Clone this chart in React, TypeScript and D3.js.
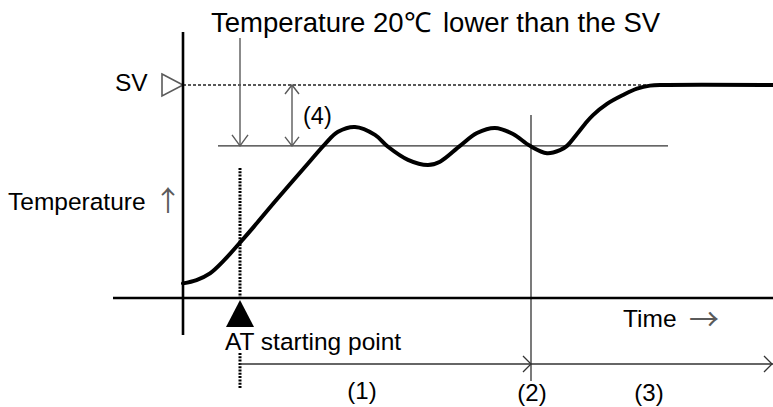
import React from "react";
import * as d3 from "d3";

// Temperature response during auto-tuning (SV = 100, AT point = SV - 20)
const timeValues = [0, 2.7, 5.4, 8.1, 11.4, 14.1, 18.4, 25.0, 28.4, 31.0, 34.4, 38.4, 41.0, 45.0, 49.0, 51.4, 55.4, 58.8, 62.4, 66.0, 69.4, 72.8, 75.4, 76.8, 78.8, 80.4, 82.0, 84.8, 88.0, 90.8, 93.4, 96.4, 118];
const tempValues = [34.8, 35.9, 38.1, 42.2, 48.2, 53.3, 61.7, 74.2, 80.6, 84.6, 86.2, 83.6, 79.7, 75.4, 73.7, 74.8, 80.0, 84.2, 85.9, 83.9, 80.0, 77.6, 78.6, 80.0, 83.9, 87.2, 90.1, 93.8, 96.7, 98.8, 99.8, 100, 100];

const SV = 100;
const AT_OFFSET = 20;
const AT_START = 11.4;
const POINT2 = 69.6;
const OFFSET_ARROW_T = 21.8;
const LOWER_LINE_RANGE = [7, 97];
const SV_DASH_RANGE = [0, 93.4];

const titleParts = ["Temperature 20℃", "lower than the SV"];
const labels = { sv: "SV", temp: "Temperature", up: "↑", at: "AT starting point", time: "Time", right: "→", four: "(4)" };
const phaseLabels = ["(1)", "(2)", "(3)"];
const phaseTimes = [35.8, 69.8, 93.2];

const W = 773;
const H = 407;

const x = d3.scaleLinear().domain([0, 118]).range([183, 773]);
const y = d3.scaleLinear().domain([30, 100]).range([298, 85]);

const FONT = "'Liberation Sans', Arial, sans-serif";
const CJK = "'Noto Sans CJK JP', 'DejaVu Sans', sans-serif";

export default function App() {
  const pts: [number, number][] = timeValues.map((t, i) => [t, tempValues[i]]);
  const line = d3
    .line<[number, number]>()
    .x((d) => x(d[0]))
    .y((d) => y(d[1]))
    .curve(d3.curveCatmullRom.alpha(0.5));

  const x0 = x(0);
  const yAxisY = y(30);
  const ySV = y(SV);
  const yLow = y(SV - AT_OFFSET);
  const xAT = x(AT_START);
  const x2 = x(POINT2);
  const xOff = x(OFFSET_ARROW_T);
  const yArrow = 364;
  const thin = "#333";
  const gray = "#5a5a5a";

  const chevronDown = (cx: number, cy: number, w: number, h: number) =>
    `M${cx - w},${cy - h} L${cx},${cy} L${cx + w},${cy - h}`;
  const chevronUp = (cx: number, cy: number, w: number, h: number) =>
    `M${cx - w},${cy + h} L${cx},${cy} L${cx + w},${cy + h}`;
  const chevronRight = (cx: number, cy: number, w: number, h: number) =>
    `M${cx - w},${cy - h} L${cx},${cy} L${cx - w},${cy + h}`;

  return (
    <svg
      width={W}
      height={H}
      viewBox={`0 0 ${W} ${H}`}
      style={{ position: "absolute", left: 0, top: 0, background: "#fff", display: "block" }}
      fontFamily={FONT}
    >
      {/* title */}
      <text x={211} y={32} fontSize={27.5} fill="#000">{titleParts[0]}</text>
      <text x={443} y={32} fontSize={27.5} fill="#000">{titleParts[1]}</text>

      {/* SV dashed line */}
      <line x1={x(SV_DASH_RANGE[0])} x2={x(SV_DASH_RANGE[1])} y1={ySV} y2={ySV} stroke="#222" strokeWidth={1.3} strokeDasharray="3,2" />
      {/* SV - 20 line */}
      <line x1={x(LOWER_LINE_RANGE[0])} x2={x(LOWER_LINE_RANGE[1])} y1={yLow} y2={yLow} stroke={thin} strokeWidth={1.3} />

      {/* SV marker */}
      <text x={115} y={91} fontSize={24.5} fill="#000">{labels.sv}</text>
      <path d={`M${x0 - 21},${ySV - 11} L${x0},${ySV} L${x0 - 21},${ySV + 11} Z`} fill="none" stroke={gray} strokeWidth={1.6} />

      {/* title arrow down to SV-20 */}
      <line x1={xAT} x2={xAT} y1={38} y2={yLow} stroke={gray} strokeWidth={1.4} />
      <path d={chevronDown(xAT, yLow, 8, 11)} fill="none" stroke={gray} strokeWidth={1.4} />

      {/* (4) double arrow */}
      <line x1={xOff} x2={xOff} y1={ySV} y2={yLow} stroke={gray} strokeWidth={1.4} />
      <path d={chevronUp(xOff, ySV, 7, 9)} fill="none" stroke={gray} strokeWidth={1.4} />
      <path d={chevronDown(xOff, yLow, 7, 9)} fill="none" stroke={gray} strokeWidth={1.4} />
      <text x={303} y={124} fontSize={23.5} fill="#000">{labels.four}</text>

      {/* y label */}
      <text x={8} y={210} fontSize={24.5} fill="#000">{labels.temp}</text>
      <text x={168} y={211} fontSize={28} fill={gray} textAnchor="middle" fontFamily={CJK}>{labels.up}</text>

      {/* (2) vertical line */}
      <line x1={x2} x2={x2} y1={115} y2={381} stroke={thin} strokeWidth={1.3} />

      {/* AT dotted line */}
      <line x1={xAT} x2={xAT} y1={168} y2={yAxisY} stroke="#000" strokeWidth={3} strokeDasharray="2,1.3" />
      <line x1={xAT} x2={xAT} y1={353} y2={388} stroke="#000" strokeWidth={3} strokeDasharray="2,1.3" />

      {/* axes */}
      <line x1={x0} x2={x0} y1={32} y2={335} stroke="#000" strokeWidth={2.6} />
      <line x1={113} x2={W} y1={yAxisY} y2={yAxisY} stroke="#000" strokeWidth={2.6} />

      {/* curve */}
      <path d={line(pts) || ""} fill="none" stroke="#000" strokeWidth={4} strokeLinejoin="round" strokeLinecap="round" />

      {/* AT triangle */}
      <path d={`M${xAT},${yAxisY + 2} L${xAT + 14},${327} L${xAT - 14},${327} Z`} fill="#000" />
      <text x={225} y={350} fontSize={24.5} fill="#000">{labels.at}</text>

      {/* time label */}
      <text x={623} y={327} fontSize={24.5} fill="#000">{labels.time}</text>
      <text x={704} y={330} fontSize={30} fill={gray} textAnchor="middle" fontFamily={CJK}>{labels.right}</text>

      {/* phase arrows */}
      <line x1={xAT} x2={x2} y1={yArrow} y2={yArrow} stroke={thin} strokeWidth={1.3} />
      <path d={chevronRight(x2, yArrow, 8, 8)} fill="none" stroke={thin} strokeWidth={1.3} />
      <line x1={x2} x2={W} y1={yArrow} y2={yArrow} stroke={thin} strokeWidth={1.3} />
      <path d={chevronRight(W - 1, yArrow, 8, 8)} fill="none" stroke={thin} strokeWidth={1.3} />

      {phaseLabels.map((l, i) => (
        <text key={l} x={x(phaseTimes[i])} y={i === 0 ? 399 : 401} fontSize={24} textAnchor="middle" fill="#000">{l}</text>
      ))}
    </svg>
  );
}
